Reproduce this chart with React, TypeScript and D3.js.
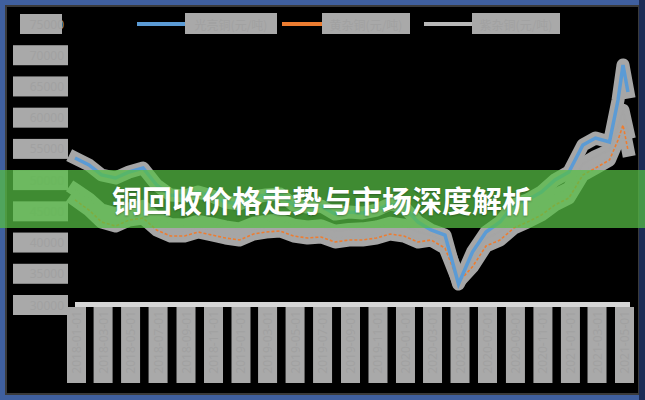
import React from "react";
import * as d3 from "d3";

const dates = [
  "2018-01-01","2018-02-01","2018-03-01","2018-04-01","2018-05-01","2018-06-01","2018-07-01","2018-08-01","2018-09-01","2018-10-01","2018-11-01","2018-12-01",
  "2019-01-01","2019-02-01","2019-03-01","2019-04-01","2019-05-01","2019-06-01","2019-07-01","2019-08-01","2019-09-01","2019-10-01","2019-11-01","2019-12-01",
  "2020-01-01","2020-02-01","2020-03-01","2020-04-01","2020-05-01","2020-06-01","2020-07-01","2020-08-01","2020-09-01","2020-10-01","2020-11-01","2020-12-01",
  "2021-01-01","2021-02-01","2021-03-01","2021-04-01","2021-04-20","2021-05-01","2021-05-12",
];

const brightCopper = [
  53540,52420,50820,50340,51300,51940,49220,47620,47460,48100,47460,46500,
  46180,47300,47620,47780,46020,45690,45860,44570,44890,44730,45210,46180,
  45690,43290,42010,41210,33360,38490,41690,43290,46020,46820,48100,50020,
  51300,55620,56740,56100,62830,68430,64110,
];

const yellowCopper = [
  46820,45210,43290,42650,43610,43930,42010,41050,41050,41690,41210,40730,
  40410,41370,41690,41850,41050,40730,40890,40090,40410,40410,40730,41370,
  41050,40090,40410,39130,33680,36110,39450,40410,42330,43290,44410,46020,
  47140,50820,51940,53220,56420,58830,54820,
];

const purpleCopper = [
  48500,47000,45200,44600,45400,45800,43900,42900,42800,43400,43000,42500,
  42200,43100,43400,43600,42800,42500,42700,41800,42100,42200,42500,43100,
  42800,41700,41200,40100,34500,37200,40600,41800,43800,44700,45900,47600,
  48700,52600,53800,54800,58500,61200,57600,
];

const seriesNames = ["光亮铜(元/吨)", "黄杂铜(元/吨)", "紫杂铜(元/吨)"];
const seriesColors = ["#5b9bd5", "#ed7d31", "#a5a5a5"];
const yTicks = [75000, 70000, 65000, 60000, 55000, 50000, 45000, 40000, 35000, 30000];
const title = "铜回收价格走势与市场深度解析";

const W = 645;
const H = 400;

export default function App() {
  const parse = d3.timeParse("%Y-%m-%d");
  const parsed = dates.map((d) => parse(d) as Date);
  const x = d3
    .scaleTime()
    .domain([parse("2018-01-01") as Date, parse("2021-05-01") as Date])
    .range([75, 623]);
  const y = d3.scaleLinear().domain([30000, 75000]).range([305, 24]);
  const xTicks = x.ticks(d3.timeMonth.every(2) as any);
  const fmt = d3.timeFormat("%Y-%m-%d");

  const mk = (vals: number[]) =>
    d3
      .line<number>()
      .x((_, i) => x(parsed[i]))
      .y((v) => y(v))(vals) as string;

  const series = [brightCopper, yellowCopper, purpleCopper];
  const paths = series.map(mk);

  const legendItems = [
    { x1: 137, x2: 185, tx: 185, tw: 92 },
    { x1: 282, x2: 322, tx: 322, tw: 88 },
    { x1: 424, x2: 472, tx: 472, tw: 88 },
  ];

  return (
    <svg
      width={W}
      height={H}
      style={{ position: "absolute", left: 0, top: 0, display: "block" }}
    >
      <rect x={0} y={0} width={W} height={H} fill="#000" />
      {/* frame */}
      <rect x={2.5} y={2.5} width={W - 5} height={H - 5} fill="none" stroke="#3f5f9e" strokeWidth={5} />
      <rect x={6} y={6} width={W - 12} height={H - 12} fill="none" stroke="#3a3a3a" strokeWidth={2} />
      <line x1={W - 3} y1={0} x2={W - 3} y2={H} stroke="#1c2c55" strokeWidth={6} />

      {/* legend */}
      {legendItems.map((it, i) => (
        <g key={i}>
          <line x1={it.x1} x2={it.x2} y1={24} y2={24} stroke={i === 2 ? "#b8b8b8" : seriesColors[i]} strokeWidth={4} />
          <rect x={it.tx} y={13} width={it.tw} height={21} fill="#a9a9a9" />
          <text x={it.tx + it.tw / 2} y={24} fill="#a1a1a1" fontSize={12} textAnchor="middle" dominantBaseline="central" fontFamily="Noto Sans CJK SC">
            {seriesNames[i]}
          </text>
        </g>
      ))}

      {/* y axis labels */}
      {yTicks.map((t, i) => (
        <g key={t}>
          <rect x={i === 0 ? 20 : 13} y={y(t) - 10} width={i === 0 ? 42 : 55} height={20} fill="#a9a9a9" />
          <text x={64} y={y(t)} fill="#a1a1a1" fontSize={12} textAnchor="end" dominantBaseline="central" fontFamily="Noto Sans">
            {t}
          </text>
        </g>
      ))}

      {/* x axis */}
      {xTicks.map((t, i) => (
        <g key={i}>
          <rect x={x(t) - 8} y={307} width={19} height={76} fill="#a9a9a9" />
          <text
            transform={`translate(${x(t) + 1.5},${311}) rotate(-90)`}
            fill="#a1a1a1"
            fontSize={12}
            textAnchor="end"
            dominantBaseline="central"
            fontFamily="Noto Sans"
          >
            {fmt(t)}
          </text>
        </g>
      ))}
      <rect x={75} y={302} width={555} height={5} fill="#d6d6d6" />

      {/* halos */}
      {paths.map((p, i) => (
        <path key={"h" + i} d={p} fill="none" stroke="#a6a6a6" strokeWidth={13} strokeLinejoin="round" strokeLinecap="square" />
      ))}
      {/* lines */}
      <path d={paths[2]} fill="none" stroke={seriesColors[2]} strokeWidth={2} />
      <path d={paths[1]} fill="none" stroke={seriesColors[1]} strokeWidth={1.6} strokeDasharray="3 2" />
      <path d={paths[0]} fill="none" stroke={seriesColors[0]} strokeWidth={3.5} />

      {/* banner */}
      <rect x={0} y={170} width={W} height={58} fill="rgba(87,190,69,0.73)" />
      <text
        x={322}
        y={199}
        fill="#fff"
        fontSize={30}
        fontWeight={700}
        textAnchor="middle"
        dominantBaseline="central"
        fontFamily="Noto Sans CJK SC"
        style={{ textShadow: "0 1px 2px rgba(0,0,0,0.3)" }}
      >
        {title}
      </text>
    </svg>
  );
}
